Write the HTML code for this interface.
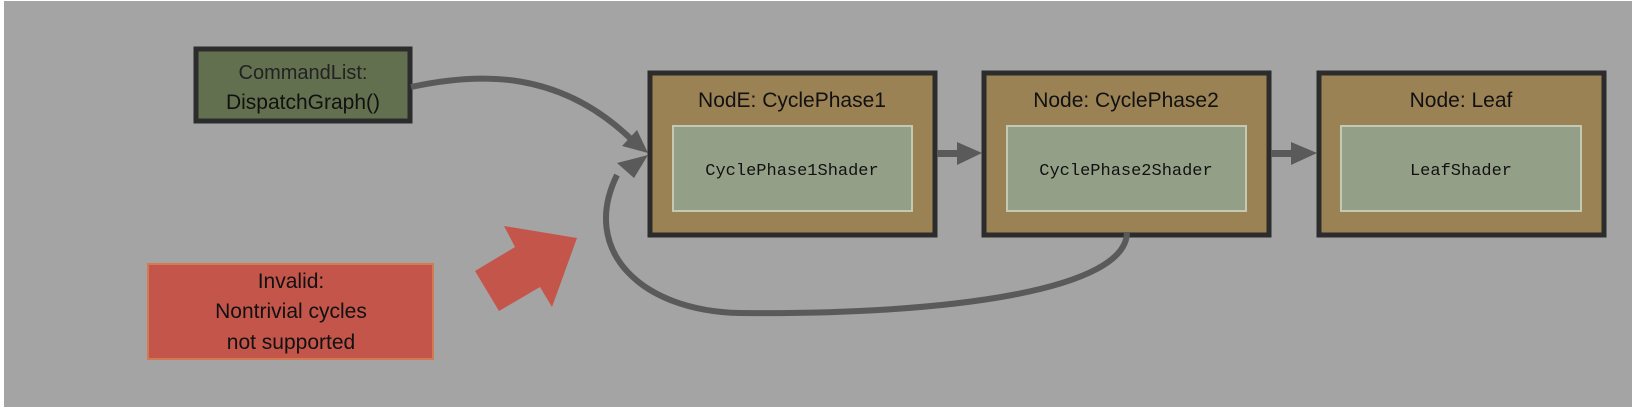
<!DOCTYPE html>
<html><head><meta charset="utf-8"><style>
html,body{margin:0;padding:0;background:#fff;}
svg{display:block}
.t{font-family:"Liberation Sans Narrow","Liberation Sans",sans-serif;font-size:21px;fill:#111;text-anchor:middle}
.m{font-family:"Liberation Mono",monospace;font-size:17px;fill:#111;text-anchor:middle}
</style></head><body>
<svg width="1632" height="408" viewBox="0 0 1632 408" xmlns="http://www.w3.org/2000/svg">
<rect x="4" y="1" width="1628" height="406" fill="#a4a4a4"/>
<!-- CommandList -->
<rect x="196" y="49" width="214" height="72" fill="#62704f" stroke="#2c2c2c" stroke-width="5"/>
<text class="t" x="303" y="79" style="font-size:20px;fill:#222">CommandList:</text>
<text class="t" x="303" y="109">DispatchGraph()</text>
<!-- Nodes -->
<rect x="650" y="73" width="285" height="162" fill="#9b8255" stroke="#2c2c2c" stroke-width="5"/>
<rect x="673" y="126" width="239" height="85" fill="#949f87" stroke="#c3c9b2" stroke-width="2"/>
<text class="t" x="792" y="107">NodE: CyclePhase1</text>
<text class="m" x="792" y="175">CyclePhase1Shader</text>
<rect x="984" y="73" width="285" height="162" fill="#9b8255" stroke="#2c2c2c" stroke-width="5"/>
<rect x="1007" y="126" width="239" height="85" fill="#949f87" stroke="#c3c9b2" stroke-width="2"/>
<text class="t" x="1126" y="107">Node: CyclePhase2</text>
<text class="m" x="1126" y="175">CyclePhase2Shader</text>
<rect x="1319" y="73" width="285" height="162" fill="#9b8255" stroke="#2c2c2c" stroke-width="5"/>
<rect x="1341" y="126" width="240" height="85" fill="#949f87" stroke="#c3c9b2" stroke-width="2"/>
<text class="t" x="1461" y="107">Node: Leaf</text>
<text class="m" x="1461" y="175">LeafShader</text>
<!-- straight arrows -->
<rect x="937" y="150" width="22" height="7" fill="#5a5a5a"/>
<polygon points="957,142 982,153 957,165" fill="#5a5a5a"/>
<rect x="1271" y="150" width="22" height="7" fill="#5a5a5a"/>
<polygon points="1291,142 1317,153 1291,165" fill="#5a5a5a"/>
<!-- curve from CommandList -->
<path d="M411,87 C480,72 560,70 632,140" fill="none" stroke="#5a5a5a" stroke-width="6"/>
<polygon points="648,153 622,146 637,130" fill="#5a5a5a"/>
<!-- loop -->
<path d="M1127,232 C1127,290 950,315 740,313 C640,311 580,250 617,175" fill="none" stroke="#5a5a5a" stroke-width="6"/>
<polygon points="648,155 634,178 617,163" fill="#5a5a5a"/>
<!-- red arrow -->
<polygon points="504,226 577,238 552,307 540,287 499,311 475,271 515,247" fill="#c4554a"/>
<!-- invalid box -->
<rect x="148" y="264" width="285" height="95" fill="#c4554a" stroke="#d27a52" stroke-width="2"/>
<text class="t" x="291" y="288">Invalid:</text>
<text class="t" x="291" y="318">Nontrivial cycles</text>
<text class="t" x="291" y="349">not supported</text>
</svg>
</body></html>
